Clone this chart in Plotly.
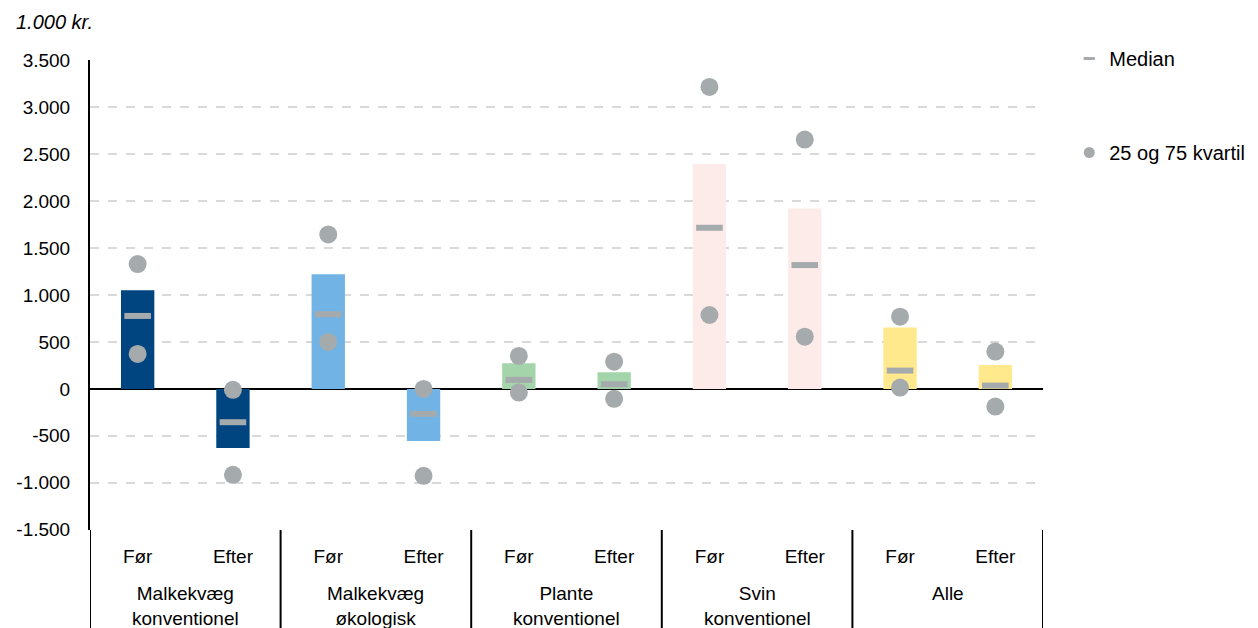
import plotly.graph_objects as go

groups = ["Malkekvæg<br>konventionel", "Malkekvæg<br>økologisk", "Plante<br>konventionel",
          "Svin<br>konventionel", "Alle"]
periods = ["Før", "Efter"]
group_colors = ["#00457F", "#72B3E6", "#A3D4AA", "#FCEBE9", "#FFE98C"]

# values per group: (Før, Efter), 1.000 kr.
bar_values = [1050, -630, 1220, -555, 273, 178, 2395, 1920, 655, 255]
median_values = [777, -355, 795, -266, 96, 50, 1716, 1319, 195, 35]
q25_values = [372, -915, 500, -926, -39, -106, 787, 556, 14, -188]
q75_values = [1330, -10, 1645, 0, 351, 290, 3216, 2656, 769, 397]

y_tickvals = [3500, 3000, 2500, 2000, 1500, 1000, 500, 0, -500, -1000, -1500]
y_ticktext = ["3.500", "3.000", "2.500", "2.000", "1.500", "1.000", "500", "0",
              "-500", "-1.000", "-1.500"]

keys = [f"{g}|{p}" for g in groups for p in periods]
tick_text = [p for _ in groups for p in periods]
bar_colors = [c for c in group_colors for _ in periods]
n_per = len(periods)

grey = "#A5ABAD"
font = "Liberation Sans, Arial, sans-serif"
fs = 19

fig = go.Figure()
fig.add_trace(go.Bar(x=keys, y=bar_values, marker=dict(color=bar_colors, line=dict(width=0)),
                     width=0.35, showlegend=False, hoverinfo="y"))
fig.add_trace(go.Scatter(x=keys, y=median_values, mode="markers", showlegend=False,
                         marker=dict(symbol="line-ew", size=19, color=grey,
                                     line=dict(color=grey, width=6))))
fig.add_trace(go.Scatter(x=keys + keys, y=q25_values + q75_values, mode="markers",
                         showlegend=False,
                         marker=dict(symbol="circle", size=18, color=grey, line=dict(width=0))))
# legend entries
fig.add_trace(go.Scatter(x=[None], y=[None], mode="markers", name="Median", legendgroup="m",
                         marker=dict(symbol="line-ew", size=8, color=grey,
                                     line=dict(color=grey, width=3))))
fig.add_trace(go.Scatter(x=[None], y=[None], mode="markers", name="25 og 75 kvartil",
                         legendgroup="q",
                         marker=dict(symbol="circle", size=11, color=grey, line=dict(width=0))))

annotations = [dict(text="<i>1.000 kr.</i>", xref="paper", yref="paper", x=-0.08, y=1.081,
                    xanchor="left", yanchor="middle", showarrow=False, font=dict(size=20))]
shapes = []
for i, g in enumerate(groups):
    annotations.append(dict(text=g, xref="x", yref="paper", x=i * n_per + (n_per - 1) / 2,
                            y=-0.108, xanchor="center", yanchor="top", showarrow=False,
                            font=dict(size=fs)))
for i in range(len(groups) + 1):
    xb = i * n_per - 0.5
    shapes.append(dict(type="line", xref="x", yref="paper", x0=xb, x1=xb, y0=0, y1=-0.25,
                       line=dict(color="black", width=2)))

fig.update_layout(
    width=1250, height=620,
    margin=dict(l=82, r=215, t=52, b=98, autoexpand=False),
    plot_bgcolor="white", paper_bgcolor="white",
    font=dict(family=font, size=fs, color="black"),
    legend=dict(xref="container", yref="container", x=0.849, y=0.95,
                xanchor="left", yanchor="top", tracegroupgap=65,
                font=dict(size=20), bgcolor="rgba(0,0,0,0)"),
    annotations=annotations, shapes=shapes,
)
fig.update_yaxes(range=[-1503, 3503], tickvals=y_tickvals, ticktext=y_ticktext,
                 automargin=False,
                 showgrid=True, gridcolor="#D9D9D9", griddash="dash", gridwidth=1.5,
                 showline=True, linecolor="black", linewidth=2,
                 zeroline=True, zerolinecolor="black", zerolinewidth=2,
                 ticks="outside", ticklen=14, tickcolor="rgba(0,0,0,0)",
                 tickfont=dict(size=fs))
fig.update_xaxes(type="category", range=[-0.5, len(keys) - 0.5], tickvals=keys,
                 ticktext=tick_text, automargin=False, showgrid=False, showline=False,
                 ticks="outside", ticklen=9, tickcolor="rgba(0,0,0,0)",
                 tickfont=dict(size=fs))

fig.write_html("out.html")
